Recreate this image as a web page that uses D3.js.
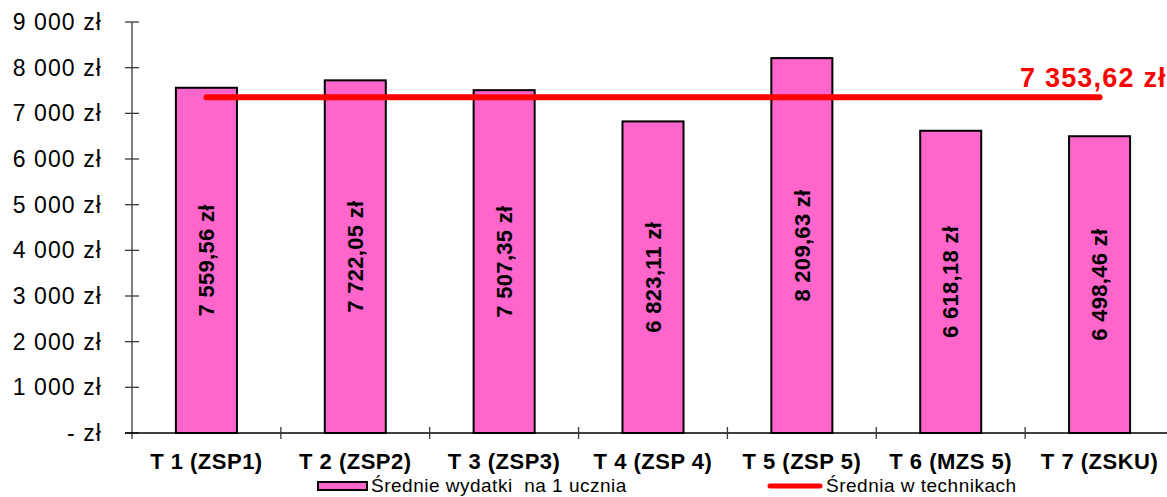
<!DOCTYPE html>
<html><head><meta charset="utf-8">
<script src="https://cdn.jsdelivr.net/npm/d3@7"></script>
<style>body{margin:0;background:#fff}svg{display:block;font-family:"Liberation Sans",Arial,sans-serif}text{white-space:pre}</style>
</head><body><svg id="c" width="1167" height="497"></svg>
<script>
const categories = ["T 1 (ZSP1)","T 2 (ZSP2)","T 3 (ZSP3)","T 4 (ZSP 4)","T 5 (ZSP 5)","T 6 (MZS 5)","T 7 (ZSKU)"];
const values = [7559.56,7722.05,7507.35,6823.11,8209.63,6618.18,6498.46];
const average = 7353.62;
const yTicks = [0,1000,2000,3000,4000,5000,6000,7000,8000,9000];
const seriesNames = ["Średnie wydatki  na 1 ucznia","Średnia w technikach"];

const fmtTick = v => v===0 ? "- zł" : d3.format(",")(v).replace(/,/g," ")+" zł";
const fmtVal = v => { const [i,d]=v.toFixed(2).split("."); return i.replace(/\B(?=(\d{3})+(?!\d))/g," ")+","+d+" zł"; };

const svg = d3.select("#c");
const y = d3.scaleLinear().domain([0,9000]).range([433,22]);
const x = d3.scaleBand().domain(categories).range([132,1174]).padding(0);
const bw = x.bandwidth()*0.41;
const axisColor = "#3a3a3a";

// y axis
svg.append("line").attr("x1",132).attr("x2",132).attr("y1",y(9000)).attr("y2",439).attr("stroke",axisColor).attr("stroke-width",1.3);
svg.selectAll(".yt").data(yTicks).enter().append("line")
  .attr("x1",125).attr("x2",139).attr("y1",d=>y(d)).attr("y2",d=>y(d)).attr("stroke",axisColor).attr("stroke-width",1.3);
svg.selectAll(".yl").data(yTicks).enter().append("text")
  .attr("x",102).attr("y",d=>y(d)+8).attr("text-anchor","end")
  .attr("font-size",23).attr("letter-spacing",1.1).attr("fill","#000").text(fmtTick);

// x axis
svg.append("line").attr("x1",125).attr("x2",1174).attr("y1",y(0)).attr("y2",y(0)).attr("stroke","#000").attr("stroke-width",1.3);
const bounds = categories.map(c=>x(c)).concat([x(categories[categories.length-1])+x.bandwidth()]);
svg.selectAll(".xt").data(bounds.slice(1)).enter().append("line")
  .attr("x1",d=>d).attr("x2",d=>d).attr("y1",427).attr("y2",439).attr("stroke",axisColor).attr("stroke-width",1.3);
svg.selectAll(".xl").data(categories).enter().append("text")
  .attr("x",d=>x(d)+x.bandwidth()/2).attr("y",469).attr("text-anchor","middle")
  .attr("font-size",22).attr("letter-spacing",0.5).attr("font-weight","bold").attr("fill","#000").text(d=>d);

// bars
svg.selectAll(".bar").data(values).enter().append("rect")
  .attr("x",(d,i)=>x(categories[i])+x.bandwidth()/2-bw/2).attr("width",bw)
  .attr("y",d=>y(d)).attr("height",d=>y(0)-y(d))
  .attr("fill","#FF66CC").attr("stroke","#000").attr("stroke-width",2);
svg.selectAll(".bl").data(values).enter().append("text")
  .attr("transform",(d,i)=>`translate(${x(categories[i])+x.bandwidth()/2},${(y(d)+y(0))/2}) rotate(-90)`)
  .attr("text-anchor","middle").attr("dy","0.35em")
  .attr("font-size",22).attr("letter-spacing",0.3).attr("font-weight","bold").attr("fill","#000").text(fmtVal);

// average line
const cx0 = x(categories[0])+x.bandwidth()/2, cx1 = x(categories[categories.length-1])+x.bandwidth()/2;
svg.append("line").attr("x1",cx0).attr("x2",cx1).attr("y1",y(average)).attr("y2",y(average))
  .attr("stroke","#FF0000").attr("stroke-width",6).attr("stroke-linecap","round");
svg.append("text").attr("x",1020).attr("y",87).attr("font-size",27).attr("letter-spacing",1.2).attr("font-weight","bold")
  .attr("fill","#FF0000").text(fmtVal(average));

// legend
svg.append("rect").attr("x",318).attr("y",482).attr("width",49).attr("height",8)
  .attr("fill","#FF66CC").attr("stroke","#000").attr("stroke-width",2);
svg.append("text").attr("x",371).attr("y",492).attr("font-size",19).attr("letter-spacing",0.5).attr("fill","#000").text(seriesNames[0]);
svg.append("line").attr("x1",770).attr("x2",820).attr("y1",486).attr("y2",486)
  .attr("stroke","#FF0000").attr("stroke-width",5).attr("stroke-linecap","round");
svg.append("text").attr("x",826).attr("y",492).attr("font-size",19).attr("letter-spacing",0.5).attr("fill","#000").text(seriesNames[1]);
</script></body></html>
